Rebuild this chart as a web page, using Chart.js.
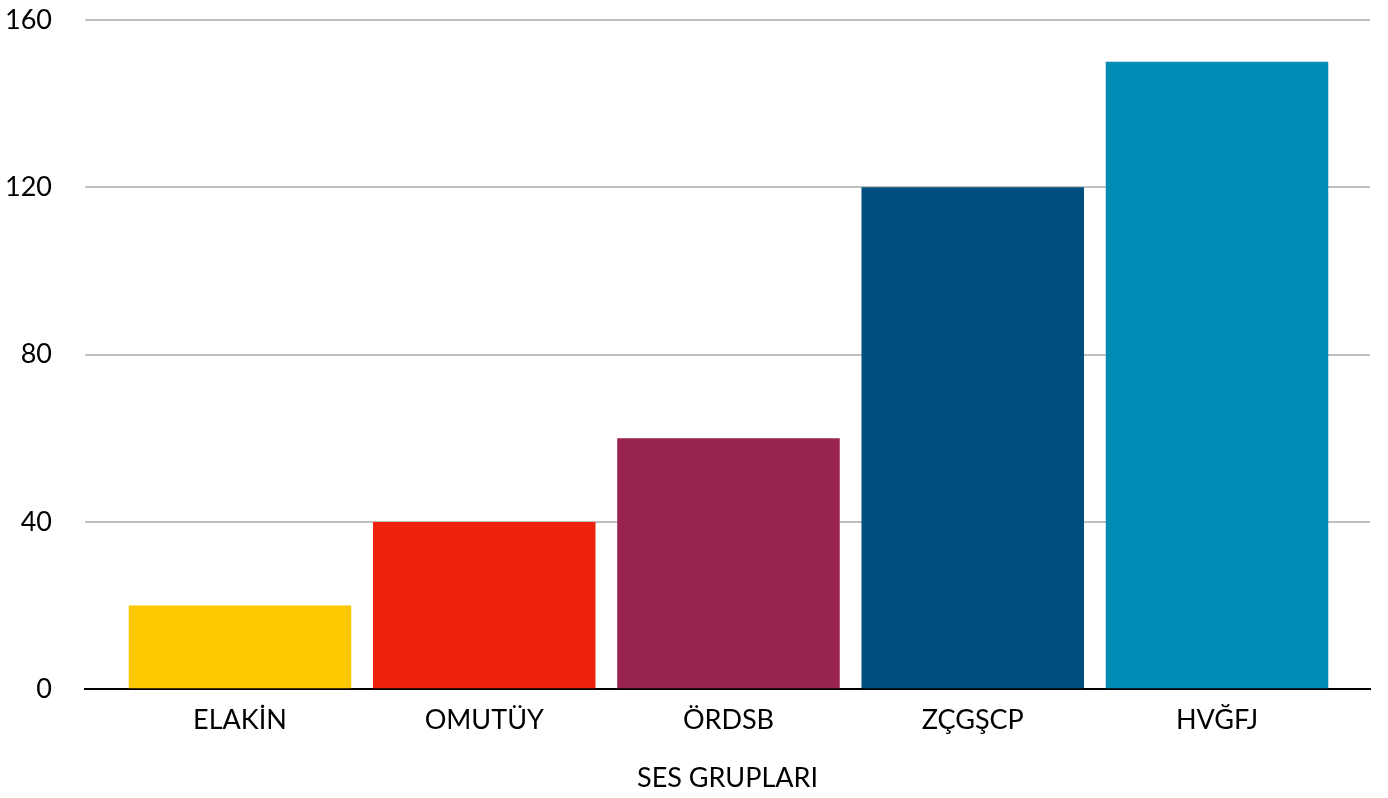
<!DOCTYPE html>
<html>
<head>
<meta charset="utf-8">
<script src="https://cdn.jsdelivr.net/npm/chart.js@4.4.0/dist/chart.umd.min.js"></script>
<style>
    html, body { margin: 0; padding: 0; background: #fff; }
    #wrap { width: 1388px; height: 798px; }
</style>
</head>
<body>
<div id="wrap"><canvas id="chartSes"></canvas></div>
<script>
// Dados do gráfico
const categorias = ["ELAKİN", "OMUTÜY", "ÖRDSB", "ZÇGŞCP", "HVĞFJ"];
const valores = [20, 40, 60, 120, 150];
const cores = ["#FCC800", "#EE220C", "#992350", "#004F80", "#008CB4"];
const yTicks = [0, 40, 80, 120, 160];
const tituloX = "SES GRUPLARI";

const fonte = "Lato, 'Open Sans', sans-serif";
const yPad = 33;

new Chart(document.getElementById("chartSes"), {
    type: "bar",
    data: {
        datasets: [{
            data: valores.map((v, i) => ({ x: i, y: v })),
            backgroundColor: cores,
            borderWidth: 0,
            barPercentage: 1,
            categoryPercentage: 0.911
        }]
    },
    options: {
        responsive: true,
        maintainAspectRatio: false,
        animation: false,
        layout: { padding: { top: 0, right: 18, left: 5, bottom: 4 } },
        plugins: {
            legend: { display: false },
            tooltip: { enabled: false }
        },
        scales: {
            x: {
                type: "linear",
                offset: false,
                min: -0.6346,
                max: 4.6264,
                afterBuildTicks: (axis) => {
                    axis.ticks = categorias.map((_, i) => ({ value: i }));
                },
                afterFit: (axis) => {
                    // sem padding extra nas laterais
                    axis.paddingLeft = 0;
                    axis.paddingRight = 0;
                },
                ticks: {
                    autoSkip: false,
                    maxRotation: 0,
                    color: "#000",
                    font: { family: fonte, size: 27 },
                    padding: 15,
                    callback: (v) => categorias[v]
                },
                grid: { display: false, drawTicks: false },
                border: { display: true, color: "#000", width: 2 },
                title: {
                    display: true,
                    text: tituloX,
                    color: "#000",
                    font: { family: fonte, size: 27 },
                    padding: { top: 10, bottom: 0 }
                }
            },
            y: {
                min: 0,
                max: 160,
                afterBuildTicks: (axis) => {
                    axis.ticks = yTicks.map(v => ({ value: v }));
                },
                afterFit: (axis) => {
                    // o Chart.js conta o padding duas vezes na largura
                    axis.width -= yPad;
                    axis.paddingTop = 20;
                    axis.paddingBottom = 0;
                },
                ticks: {
                    color: "#000",
                    font: { family: fonte, size: 27 },
                    padding: yPad
                },
                grid: {
                    drawTicks: false,
                    lineWidth: 2,
                    color: (ctx) => ctx.tick && ctx.tick.value === 0 ? "rgba(0,0,0,0)" : "#c0c0c0"
                },
                border: { display: false }
            }
        }
    }
});
</script>
</body>
</html>
